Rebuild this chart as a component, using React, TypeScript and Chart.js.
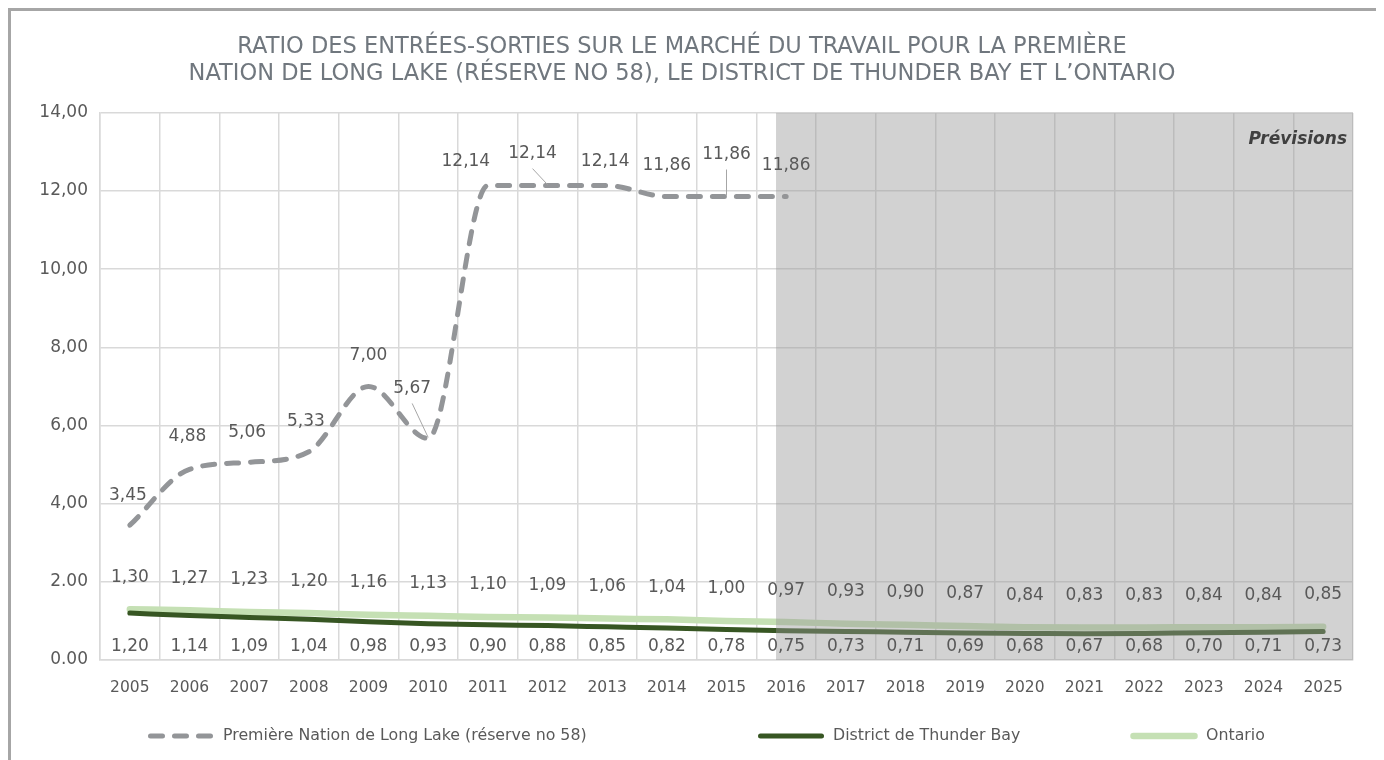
import React, { useEffect, useRef } from "react";
import { Chart, registerables } from "chart.js";

Chart.register(...registerables);

const YEARS = ["2005", "2006", "2007", "2008", "2009", "2010", "2011", "2012", "2013", "2014", "2015", "2016", "2017", "2018", "2019", "2020", "2021", "2022", "2023", "2024", "2025"];
const LONG_LAKE: (number | null)[] = [3.45, 4.88, 5.06, 5.33, 7.0, 5.67, 12.14, 12.14, 12.14, 11.86, 11.86, 11.86, null, null, null, null, null, null, null, null, null];
const THUNDER_BAY = [1.2, 1.14, 1.09, 1.04, 0.98, 0.93, 0.9, 0.88, 0.85, 0.82, 0.78, 0.75, 0.73, 0.71, 0.69, 0.68, 0.67, 0.68, 0.7, 0.71, 0.73];
const ONTARIO = [1.3, 1.27, 1.23, 1.2, 1.16, 1.13, 1.1, 1.09, 1.06, 1.04, 1.0, 0.97, 0.93, 0.9, 0.87, 0.84, 0.83, 0.83, 0.84, 0.84, 0.85];
const Y_TICK_LABELS = ["0.00", "2.00", "4,00", "6,00", "8,00", "10,00", "12,00", "14,00"];
const SERIES_NAMES = ["Première Nation de Long Lake (réserve no 58)", "District de Thunder Bay", "Ontario"];
const TITLE_LINES = [
  "RATIO DES ENTRÉES-SORTIES SUR LE MARCHÉ DU TRAVAIL POUR LA PREMIÈRE",
  "NATION DE LONG LAKE (RÉSERVE NO 58), LE DISTRICT DE THUNDER BAY ET L\u2019ONTARIO",
];
const FORECAST_START = "2016";
const FORECAST_LABEL = "Prévisions";

// label placement tweaks (style only)
const LL_LABEL_ADJUST: Record<number, { dx: number; dy: number; leader?: boolean }> = {
  0: { dx: -2, dy: -30 },
  1: { dx: -2, dy: -33 },
  2: { dx: -2, dy: -30 },
  3: { dx: -3, dy: -30 },
  4: { dx: 0, dy: -31 },
  5: { dx: -16, dy: -50, leader: true },
  6: { dx: -22, dy: -24 },
  7: { dx: -15, dy: -32, leader: true },
  8: { dx: -2, dy: -24 },
  9: { dx: 0, dy: -31 },
  10: { dx: 0, dy: -42, leader: true },
  11: { dx: 0, dy: -31 },
};
// legend item left edges in canvas px (style only)
const LEGEND_X = [137, 747, 1120];

const FONT = "'DejaVu Sans', sans-serif";
const TEXT = "#595959";
const GRID = "#D9D9D9";

const fmt = (v: number) => v.toFixed(2).replace(".", ",");

const forecastPlugin = {
  id: "forecast",
  afterDatasetsDraw(chart: any) {
    const { ctx, chartArea, scales } = chart;
    const xs = scales.x;
    const idx = YEARS.indexOf(FORECAST_START);
    const cat = xs.getPixelForValue(1) - xs.getPixelForValue(0);
    const x0 = xs.getPixelForValue(idx) - 0.17 * cat;
    ctx.save();
    ctx.fillStyle = "rgba(150,150,150,0.43)";
    ctx.fillRect(x0, chartArea.top, chartArea.right - x0, chartArea.bottom - chartArea.top);
    ctx.fillStyle = "#404040";
    ctx.font = `italic bold 17px ${FONT}`;
    ctx.textAlign = "right";
    ctx.textBaseline = "middle";
    ctx.fillText(FORECAST_LABEL, chartArea.right - 6, chartArea.top + 27);
    ctx.restore();
  },
};

const labelsPlugin = {
  id: "valueLabels",
  afterDatasetsDraw(chart: any) {
    const { ctx, chartArea } = chart;
    ctx.save();
    ctx.font = `17px ${FONT}`;
    ctx.fillStyle = TEXT;
    ctx.textAlign = "center";
    ctx.textBaseline = "middle";
    const m0 = chart.getDatasetMeta(0);
    m0.data.forEach((pt: any, i: number) => {
      const v = LONG_LAKE[i];
      if (v == null) return;
      const a = LL_LABEL_ADJUST[i] || { dx: 0, dy: -30 };
      const lx = pt.x + a.dx;
      const ly = pt.y + a.dy;
      if (a.leader) {
        ctx.strokeStyle = "#A6A6A6";
        ctx.lineWidth = 1;
        ctx.beginPath();
        ctx.moveTo(lx, ly + 15);
        ctx.lineTo(pt.x, pt.y - 1);
        ctx.stroke();
      }
      ctx.fillText(fmt(v), lx, ly);
    });
    const m1 = chart.getDatasetMeta(1);
    m1.data.forEach((pt: any, i: number) => {
      const y = Math.min(pt.y + 34, chartArea.bottom - 13);
      ctx.fillText(fmt(THUNDER_BAY[i]), pt.x, y);
    });
    const m2 = chart.getDatasetMeta(2);
    m2.data.forEach((pt: any, i: number) => {
      ctx.fillText(fmt(ONTARIO[i]), pt.x, pt.y - 32);
    });
    ctx.restore();
  },
};

const legendPlugin = {
  id: "customLegend",
  afterDraw(chart: any) {
    const { ctx } = chart;
    const sample = 66;
    const gapText = 9;
    ctx.save();
    ctx.font = `15.8px ${FONT}`;
    const ds = chart.data.datasets;
    const y = chart.height - 24;
    ds.forEach((d: any, i: number) => {
      const x = LEGEND_X[i];
      ctx.strokeStyle = d.borderColor;
      ctx.lineWidth = d.borderWidth;
      ctx.lineCap = "round";
      ctx.setLineDash(d.borderDash || []);
      ctx.beginPath();
      ctx.moveTo(x + 2.5, y);
      ctx.lineTo(x + sample - 2.5, y);
      ctx.stroke();
      ctx.setLineDash([]);
      ctx.fillStyle = TEXT;
      ctx.textAlign = "left";
      ctx.textBaseline = "middle";
      ctx.fillText(d.label, x + sample + gapText, y);
    });
    ctx.restore();
  },
};

export default function App() {
  const ref = useRef<HTMLCanvasElement | null>(null);
  useEffect(() => {
    if (!ref.current) return;
    const chart = new Chart(ref.current, {
      type: "line",
      data: {
        labels: YEARS,
        datasets: [
          {
            label: SERIES_NAMES[0],
            data: LONG_LAKE,
            borderColor: "#939598",
            borderWidth: 5,
            borderDash: [12, 12],
            borderCapStyle: "round",
            borderJoinStyle: "round",
            pointRadius: 0,
            cubicInterpolationMode: "monotone",
            spanGaps: false,
          },
          {
            label: SERIES_NAMES[1],
            data: THUNDER_BAY,
            borderColor: "#375623",
            borderWidth: 5,
            borderCapStyle: "round",
            pointRadius: 0,
            cubicInterpolationMode: "monotone",
          },
          {
            label: SERIES_NAMES[2],
            data: ONTARIO,
            borderColor: "#C5E0B4",
            borderWidth: 6.5,
            borderCapStyle: "round",
            pointRadius: 0,
            cubicInterpolationMode: "monotone",
          },
        ],
      },
      options: {
        animation: false,
        responsive: false,
        devicePixelRatio: 1,
        layout: { padding: { left: 0, right: 31, top: 0, bottom: 62 } },
        plugins: {
          legend: { display: false },
          tooltip: { enabled: false },
          title: {
            display: true,
            text: TITLE_LINES,
            color: "#70777E",
            font: { family: FONT, size: 22.5, weight: "normal", lineHeight: 1.22 },
            padding: { top: 22, bottom: 25 },
          },
        },
        scales: {
          x: {
            offset: true,
            grid: { offset: true, color: GRID, lineWidth: 1.5, drawTicks: false },
            border: { color: GRID, width: 1.5 },
            ticks: { color: TEXT, font: { family: FONT, size: 15.5 }, padding: 19, maxRotation: 0, autoSkip: false },
            afterFit: (s: any) => {
              s.height = 38;
            },
          },
          y: {
            min: 0,
            max: 14,
            grid: { color: GRID, lineWidth: 1.5, drawTicks: false },
            border: { color: GRID, width: 1.5 },
            ticks: {
              stepSize: 2,
              padding: 12,
              color: TEXT,
              font: { family: FONT, size: 17 },
              callback: (v: any) => Y_TICK_LABELS[Math.round(Number(v) / 2)],
            },
            afterFit: (s: any) => {
              s.width = 89;
            },
          },
        },
      },
      plugins: [forecastPlugin, labelsPlugin, legendPlugin],
    });
    return () => chart.destroy();
  }, []);

  return (
    <div
      style={{
        width: 1376,
        height: 752,
        boxSizing: "border-box",
        borderTop: "3px solid #A6A6A6",
        borderLeft: "3px solid #A6A6A6",
        background: "#fff",
        overflow: "hidden",
      }}
    >
      <canvas ref={ref} width={1373} height={749} style={{ display: "block", width: 1373, height: 749 }} />
    </div>
  );
}
